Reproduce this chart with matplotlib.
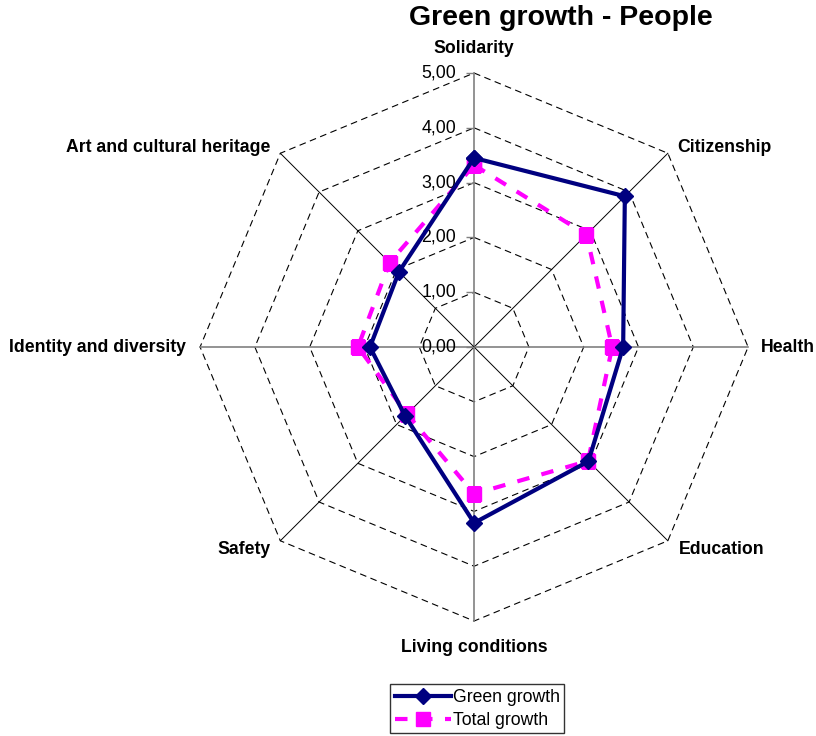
import numpy as np
import matplotlib.pyplot as plt

plt.rcParams['font.family'] = ['Liberation Sans', 'DejaVu Sans']

categories = ['Solidarity', 'Citizenship', 'Health', 'Education',
              'Living conditions', 'Safety', 'Identity and diversity',
              'Art and cultural heritage']
green_growth = [3.45, 3.89, 2.72, 2.95, 3.21, 1.78, 1.90, 1.94]
total_growth = [3.32, 2.90, 2.52, 2.94, 2.68, 1.73, 2.12, 2.18]
levels = [0, 1, 2, 3, 4, 5]
level_labels = ['0,00', '1,00', '2,00', '3,00', '4,00', '5,00']

n = len(categories)
angles = np.arange(n) * 2 * np.pi / n
closed = np.append(angles, angles[0])

fig = plt.figure(figsize=(8.16, 7.36), dpi=100)
ax = fig.add_axes([0.2452, 0.1562, 0.6716, 0.7446], projection='polar')
ax.set_theta_zero_location('N')
ax.set_theta_direction(-1)
ax.set_ylim(0, 5)
ax.grid(False)
ax.set_xticks([])
ax.set_yticks([])
ax.spines['polar'].set_visible(False)

# octagon grid
for lv in levels[1:]:
    ax.plot(closed, [lv] * (n + 1), color='black', ls=(0, (6, 4)), lw=0.8,
            clip_on=False, zorder=1)

# spokes
for i, a in enumerate(angles):
    if i % 2 == 0:
        ax.plot([a, a], [0, 5], color='#808080', lw=1.2, clip_on=False, zorder=1)
    else:
        ax.plot([a, a], [0, 5], color='black', lw=0.7, clip_on=False, zorder=1)

# value axis ticks and labels
ax.plot([0] * len(levels), levels, ls='none', marker=0, ms=6, color='#808080',
        clip_on=False)
for lv, lab in zip(levels, level_labels):
    ax.annotate(lab, (0, lv), xytext=(-13, 0), textcoords='offset points',
                ha='right', va='center', fontsize=12.8)

# category labels
offsets = [(0, 18, 'center'), (7, 4, 'left'), (9, 0, 'left'), (8, -6, 'left'),
           (0, -19, 'center'), (-7, -6, 'right'), (-10, 0, 'right'),
           (-7, 4, 'right')]
for a, name, (dx, dy, ha) in zip(angles, categories, offsets):
    ax.annotate(name, (a, 5), xytext=(dx, dy), textcoords='offset points',
                ha=ha, va='center', fontsize=12.7, fontweight='bold')

ax.plot(closed, green_growth + green_growth[:1], color='#000080', lw=3,
        marker='D', ms=8, label='Green growth', zorder=3)
ax.plot(closed, total_growth + total_growth[:1], color='#FF00FF', lw=3,
        ls=(0, (3, 3)), marker='s', ms=10.5, label='Total growth', zorder=2)

fig.text(0.6875, 1 - 18 / 736, 'Green growth - People', ha='center',
         va='center', fontsize=20.5, fontweight='bold')

leg = fig.legend(loc='lower center', bbox_to_anchor=(0.585, 0.0), fontsize=12.7,
                 fancybox=False, edgecolor='black', handlelength=3.2,
                 borderpad=0.25, labelspacing=0.35, handletextpad=0.1,
                 borderaxespad=0.15)
leg.get_frame().set_linewidth(1.0)

fig.savefig('out.png', dpi=100)
